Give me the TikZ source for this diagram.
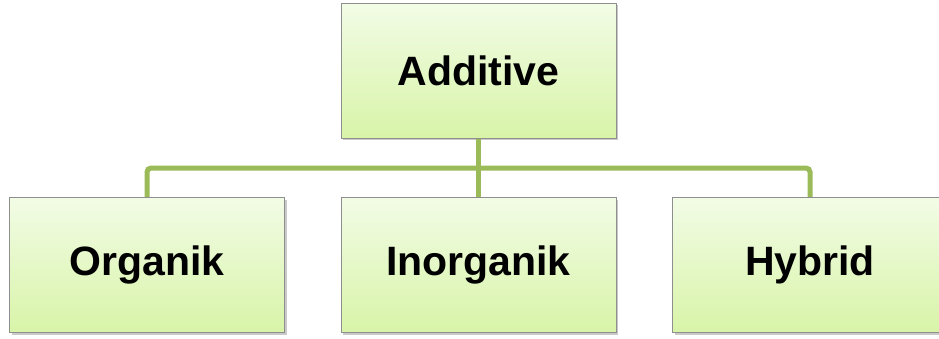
\documentclass[tikz,border=0pt]{standalone}
\usepackage{fontspec}
\setmainfont{Liberation Sans}
\usetikzlibrary{shadows}
\definecolor{boxtop}{HTML}{F2FCE6}
\definecolor{boxbot}{HTML}{D8F4A8}
\definecolor{boxline}{HTML}{8E8E8E}
\definecolor{conn}{HTML}{9BBB59}
\tikzset{
  orgbox/.style={rectangle, minimum width=275pt, minimum height=135pt, inner sep=0pt,
    draw=boxline, line width=1pt, top color=boxtop, bottom color=boxbot,
    drop shadow={shadow xshift=2pt, shadow yshift=-2pt, opacity=0.3, fill=black!70},
    font=\fontsize{41}{48}\selectfont\bfseries, text=black},
  connline/.style={draw=conn, line width=5pt}
}
\begin{document}
\begin{tikzpicture}[x=1pt,y=-1pt]
\useasboundingbox (0,0) rectangle (939,338);
\draw[connline, rounded corners=4pt] (147,199) -- (147,168) -- (810,168) -- (810,199);
\node[orgbox] (add) at (478.5,70.5) {Additive};
\node[orgbox] (org) at (147,265) {Organik};
\node[orgbox] (ino) at (478.5,265) {Inorganik};
\node[orgbox] (hyb) at (810,265) {Hybrid};
\draw[connline] (add.south) -- (ino.north);
\end{tikzpicture}
\end{document}
